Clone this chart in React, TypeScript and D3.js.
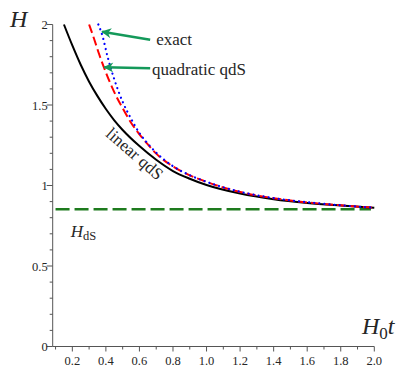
import { useEffect, useRef } from 'react';
import * as d3 from 'd3';

// linear qdS (black, solid)
const linearT = [0.15, 0.2, 0.25, 0.3, 0.35, 0.4, 0.45, 0.5, 0.6, 0.7, 0.8, 0.9, 1.0, 1.2, 1.4, 1.6, 1.8, 2.0];
const linearH = [2.0, 1.87, 1.75, 1.645, 1.555, 1.475, 1.405, 1.345, 1.245, 1.16, 1.09, 1.042, 1.003, 0.95, 0.915, 0.892, 0.876, 0.862];

// quadratic qdS (red, dashed)
const quadT = [0.3, 0.33, 0.36, 0.4, 0.45, 0.5, 0.55, 0.6, 0.65, 0.7, 0.8, 0.9, 1.0, 1.2, 1.4, 1.6, 1.8, 2.0];
const quadH = [2.0, 1.91, 1.815, 1.702, 1.58, 1.48, 1.39, 1.318, 1.255, 1.198, 1.118, 1.063, 1.022, 0.96, 0.921, 0.895, 0.877, 0.862];

// exact (blue, dotted)
const exactT = [0.355, 0.38, 0.41, 0.45, 0.5, 0.55, 0.6, 0.65, 0.7, 0.8, 0.9, 1.0, 1.2, 1.4, 1.6, 1.8, 2.0];
const exactH = [2.0, 1.928, 1.8, 1.66, 1.52, 1.415, 1.326, 1.26, 1.204, 1.12, 1.064, 1.023, 0.961, 0.922, 0.896, 0.877, 0.862];

const hdS = 0.852;

const xMajor = [0.2, 0.4, 0.6, 0.8, 1.0, 1.2, 1.4, 1.6, 1.8, 2.0];
const xMinor = [0.1, 0.3, 0.5, 0.7, 0.9, 1.1, 1.3, 1.5, 1.7, 1.9];
const yMajor = [0, 0.5, 1, 1.5, 2];
const yMajorLabels = ['0', '0.5', '1', '1.5', '2'];
const yMinor = [0.1, 0.2, 0.3, 0.4, 0.6, 0.7, 0.8, 0.9, 1.1, 1.2, 1.3, 1.4, 1.6, 1.7, 1.8, 1.9];

// arrow annotations: [tailT, tailH, tipT, tipH]
const arrowExact = [0.664, 1.905, 0.378, 1.955];
const arrowQuad = [0.664, 1.728, 0.39, 1.735];

const App = () => {
  const ref = useRef<SVGSVGElement>(null);

  useEffect(() => {
    if (!ref.current) return;
    const svg = d3.select(ref.current);
    svg.selectAll('*').remove();

    const x = d3.scaleLinear().domain([0.083, 2]).range([52.7, 374.3]);
    const y = d3.scaleLinear().domain([0, 2]).range([346.5, 24.5]);
    const serif = '"Liberation Serif", "DejaVu Serif", serif';
    const axisColor = '#555';
    const textColor = '#262626';

    // arrow marker
    svg.append('defs').append('marker')
      .attr('id', 'ghead')
      .attr('viewBox', '0 0 10 10')
      .attr('refX', 9)
      .attr('refY', 5)
      .attr('markerWidth', 5)
      .attr('markerHeight', 4)
      .attr('markerUnits', 'strokeWidth')
      .attr('orient', 'auto')
      .append('path')
      .attr('d', 'M0,0 L10,5 L0,10 L3,5 Z')
      .attr('fill', '#14995a');

    // axes
    const ax = svg.append('g');
    ax.append('line')
      .attr('x1', x(0.083)).attr('x2', x(2))
      .attr('y1', y(0)).attr('y2', y(0))
      .attr('stroke', axisColor).attr('stroke-width', 1);
    ax.append('line')
      .attr('x1', x(0.083)).attr('x2', x(0.083))
      .attr('y1', y(0)).attr('y2', y(2))
      .attr('stroke', axisColor).attr('stroke-width', 1);

    ax.selectAll('.xmaj').data(xMajor).enter().append('line')
      .attr('x1', d => x(d)).attr('x2', d => x(d))
      .attr('y1', y(0)).attr('y2', y(0) + 5)
      .attr('stroke', axisColor);
    ax.selectAll('.xmin').data(xMinor).enter().append('line')
      .attr('x1', d => x(d)).attr('x2', d => x(d))
      .attr('y1', y(0)).attr('y2', y(0) + 3)
      .attr('stroke', axisColor);
    ax.selectAll('.xlab').data(xMajor).enter().append('text')
      .attr('x', d => x(d)).attr('y', y(0) + 18)
      .attr('text-anchor', 'middle')
      .style('font-family', serif).style('font-size', '12.5px').style('fill', textColor)
      .text(d => d.toFixed(1));

    ax.selectAll('.ymaj').data(yMajor).enter().append('line')
      .attr('x1', x(0.083) - 6).attr('x2', x(0.083))
      .attr('y1', d => y(d)).attr('y2', d => y(d))
      .attr('stroke', axisColor);
    ax.selectAll('.ymin').data(yMinor).enter().append('line')
      .attr('x1', x(0.083) - 3).attr('x2', x(0.083))
      .attr('y1', d => y(d)).attr('y2', d => y(d))
      .attr('stroke', axisColor);
    ax.selectAll('.ylab').data(yMajor).enter().append('text')
      .attr('x', x(0.083) - 5).attr('y', d => y(d) + 4.5)
      .attr('text-anchor', 'end')
      .style('font-family', serif).style('font-size', '12.5px').style('fill', textColor)
      .text((d, i) => yMajorLabels[i]);

    // de Sitter line
    svg.append('line')
      .attr('x1', x(0.1)).attr('x2', x(1.98))
      .attr('y1', y(hdS)).attr('y2', y(hdS))
      .attr('stroke', '#1e7b1e').attr('stroke-width', 2.5)
      .attr('stroke-dasharray', '14,5');

    const drawCurve = (ts: number[], hs: number[], color: string, width: number, dash: string | null, cap: string) => {
      const pts = ts.map((t, i) => [x(t), y(hs[i])] as [number, number]);
      const p = svg.append('path')
        .attr('d', d3.line().curve(d3.curveMonotoneX)(pts))
        .attr('fill', 'none')
        .attr('stroke', color)
        .attr('stroke-width', width)
        .attr('stroke-linecap', cap);
      if (dash) p.attr('stroke-dasharray', dash);
    };

    drawCurve(linearT, linearH, '#000', 2, null, 'butt');
    drawCurve(quadT, quadH, '#ff0000', 2, '9,4', 'butt');
    drawCurve(exactT, exactH, '#0000ff', 2.2, '0.1,5', 'round');

    // arrows
    [arrowExact, arrowQuad].forEach(a => {
      svg.append('line')
        .attr('x1', x(a[0])).attr('y1', y(a[1]))
        .attr('x2', x(a[2])).attr('y2', y(a[3]))
        .attr('stroke', '#14995a').attr('stroke-width', 2.5)
        .attr('marker-end', 'url(#ghead)');
    });

    const txt = (tx: number, ty: number, s: string) =>
      svg.append('text')
        .attr('x', tx).attr('y', ty)
        .style('font-family', serif).style('font-size', '17px').style('fill', textColor)
        .text(s);

    txt(x(0.7), y(1.905) + 5, 'exact');
    txt(x(0.675), y(1.728) + 7, 'quadratic qdS');

    // rotated label along linear curve
    svg.append('text')
      .attr('transform', `translate(${x(0.55)},${y(1.17)}) rotate(41)`)
      .attr('text-anchor', 'middle')
      .style('font-family', serif).style('font-size', '17px').style('fill', textColor)
      .text('linear qdS');

    // H_dS label
    const hl = svg.append('text')
      .attr('x', x(0.19)).attr('y', y(0.68))
      .style('font-family', serif).style('font-size', '17px').style('fill', textColor);
    hl.append('tspan').style('font-style', 'italic').text('H');
    hl.append('tspan').attr('dy', 3).style('font-size', '12.5px').text('dS');

    // axis titles
    svg.append('text')
      .attr('x', 10).attr('y', 27)
      .style('font-family', serif).style('font-size', '24px').style('font-style', 'italic').style('fill', textColor)
      .text('H');

    const xt = svg.append('text')
      .attr('x', 362).attr('y', 334)
      .style('font-family', serif).style('font-size', '24px').style('fill', textColor);
    xt.append('tspan').style('font-style', 'italic').text('H');
    xt.append('tspan').attr('dy', 5).style('font-size', '17px').text('0');
    xt.append('tspan').attr('dy', -5).style('font-style', 'italic').text('t');
  }, []);

  return (
    <svg
      ref={ref}
      width={410}
      height={370}
      style={{ position: 'absolute', left: 0, top: 0, background: '#fff' }}
    />
  );
};

export default App;
